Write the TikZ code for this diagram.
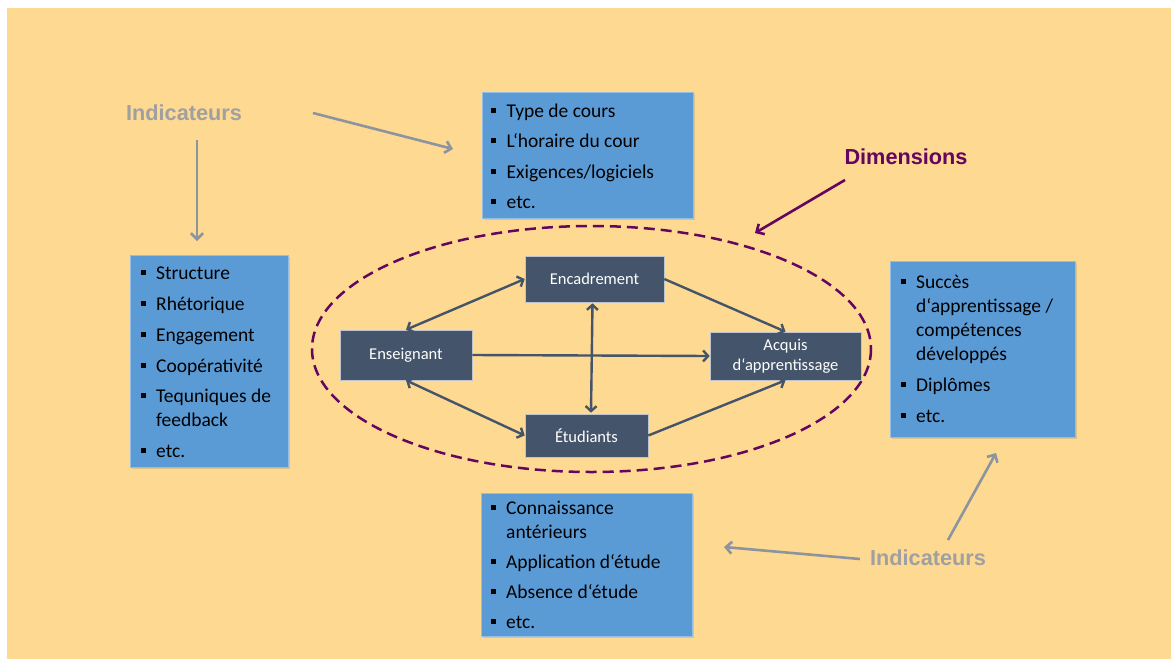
\documentclass[tikz,border=0pt]{standalone}
\usepackage{fontspec}
\setmainfont{Carlito}
\newfontfamily\arialfont{Liberation Sans}
\usetikzlibrary{arrows.meta,shadows,calc}
\definecolor{bgor}{RGB}{254,217,145}
\definecolor{boxblue}{RGB}{91,155,213}
\definecolor{boxblueedge}{RGB}{150,190,228}
\definecolor{darkbox}{RGB}{68,84,106}
\definecolor{darkedge}{RGB}{190,195,205}
\definecolor{purp}{RGB}{100,5,95}
\definecolor{greytxt}{RGB}{160,160,160}
\definecolor{greyarr}{RGB}{140,148,160}
\tikzset{
  bluebox/.style={rectangle, fill=boxblue, draw=boxblueedge, line width=0.6pt, inner sep=0pt,
    drop shadow={opacity=0.25, shadow xshift=1.5pt, shadow yshift=-1.5pt}},
  darkbox/.style={rectangle, fill=darkbox, draw=darkedge, line width=0.6pt, inner sep=0pt,
    text=white, font=\fontsize{16.5}{20}\selectfont, align=center,
    drop shadow={opacity=0.2, shadow xshift=1pt, shadow yshift=-1pt}},
  itm/.style={anchor=base west, inner sep=0pt, text=black, font=\fontsize{19.5}{23}\selectfont},
  bsq/.style={rectangle, fill=black, minimum size=5pt, inner sep=0pt},
  darrow/.style={draw=darkbox, line width=2.4pt, {Straight Barb[length=5pt,width=11pt]}-{Straight Barb[length=5pt,width=11pt]}},
  sarrow/.style={draw=darkbox, line width=2.4pt, -{Straight Barb[length=5pt,width=11pt]}},
  garrow/.style={draw=greyarr, line width=2.6pt, -{Straight Barb[length=6pt,width=12pt]}},
  parrow/.style={draw=purp, line width=2.6pt, -{Straight Barb[length=6pt,width=12pt]}},
  glabel/.style={text=greytxt, font=\arialfont\bfseries\fontsize{21.7}{26}\selectfont, inner sep=0pt},
  plabel/.style={text=purp, font=\arialfont\bfseries\fontsize{21.7}{26}\selectfont, inner sep=0pt},
  dimring/.style={draw=purp, line width=2.5pt, dash pattern=on 11pt off 6pt}
}
\newcommand{\bitem}[4]{%
  \node[bsq] (#1b) at (#2-13,#3-7) {};
  \node[itm] (#1) at (#2,#3) {#4};}
\begin{document}
\begin{tikzpicture}[x=1pt,y=-1pt]
\useasboundingbox (0,0) rectangle (1171,659);
\fill[white] (0,0) rectangle (1171,659);
\fill[bgor] (7,8) rectangle (1171,659);

% dashed ellipse (dimensions)
\draw[dimring] (591.5,349) ellipse [x radius=279.5, y radius=123];

% blue boxes
\node[bluebox, minimum width=211pt, minimum height=126pt] (topbox) at (587.5,155) {};
\node[bluebox, minimum width=158pt, minimum height=212pt] (leftbox) at (209,361) {};
\node[bluebox, minimum width=185pt, minimum height=176pt] (rightbox) at (982.5,349) {};
\node[bluebox, minimum width=211.5pt, minimum height=143pt] (botbox) at (586.75,564.5) {};

% top box items
\bitem{t1}{506.5}{117}{Type de cours}
\bitem{t2}{506.5}{147.5}{L‘horaire du cour}
\bitem{t3}{506.5}{178}{Exigences/logiciels}
\bitem{t4}{506.5}{208.5}{etc.}

% left box items
\bitem{l1}{156}{279}{Structure}
\bitem{l2}{156}{310}{Rhétorique}
\bitem{l3}{156}{341}{Engagement}
\bitem{l4}{156}{372}{Coopérativité}
\bitem{l5}{156}{402}{Tequniques de}
\node[itm] (l5b2) at (156,426) {feedback};
\bitem{l6}{156}{457}{etc.}

% right box items
\bitem{r1}{916}{288}{Succès}
\node[itm] (r1l2) at (916,312) {d‘apprentissage /};
\node[itm] (r1l3) at (916,336) {compétences};
\node[itm] (r1l4) at (916,360) {développés};
\bitem{r2}{916}{391}{Diplômes}
\bitem{r3}{916}{422}{etc.}

% bottom box items
\bitem{b1}{506}{514}{Connaissance}
\node[itm] (b1l2) at (506,538) {antérieurs};
\bitem{b2}{506}{568}{Application d‘étude}
\bitem{b3}{506}{598.5}{Absence d‘étude}
\bitem{b4}{506}{628.5}{etc.}

% dark boxes
\node[darkbox, minimum width=139pt, minimum height=46pt] (enc) at (594.5,279) {Encadrement};
\node[darkbox, minimum width=132pt, minimum height=50pt] (ens) at (406,355) {Enseignant};
\node[darkbox, minimum width=151pt, minimum height=48pt] (acq) at (785.5,356) {Acquis\\d‘apprentissage};
\node[darkbox, minimum width=123pt, minimum height=43pt] (etu) at (586.5,435.5) {Étudiants};

% connectors between dark boxes
\draw[darrow] (ens.north) -- (enc.west);
\draw[darrow] (ens.south) -- (etu.west);
\draw[darrow] ($(enc.south)+(-2,1)$) -- ($(etu.north)+(4.5,-1)$);
\draw[sarrow] (ens.east) -- (acq.west);
\draw[sarrow] (enc.east) -- (acq.north);
\draw[sarrow] (etu.east) -- (acq.south);

% labels
\node[glabel] (ind1) at (184,113) {Indicateurs};
\node[glabel] (ind2) at (928,558) {Indicateurs};
\node[plabel] (dim) at (906,157) {Dimensions};

% free arrow ends
\coordinate (a1s) at (313,113);
\coordinate (a1e) at (453,149);
\coordinate (a2s) at (197,140);
\coordinate (a2e) at (197,241);
\coordinate (a3s) at (860,559);
\coordinate (a3e) at (724,547);
\coordinate (a4s) at (948,540);
\coordinate (a4e) at (996,453);
\coordinate (a5s) at (845,180);
\coordinate (a5e) at (755,233);

\draw[garrow] (a1s) -- (a1e);
\draw[garrow] (a2s) -- (a2e);
\draw[garrow] (a3s) -- (a3e);
\draw[garrow] (a4s) -- (a4e);
\draw[parrow] (a5s) -- (a5e);
\end{tikzpicture}
\end{document}
